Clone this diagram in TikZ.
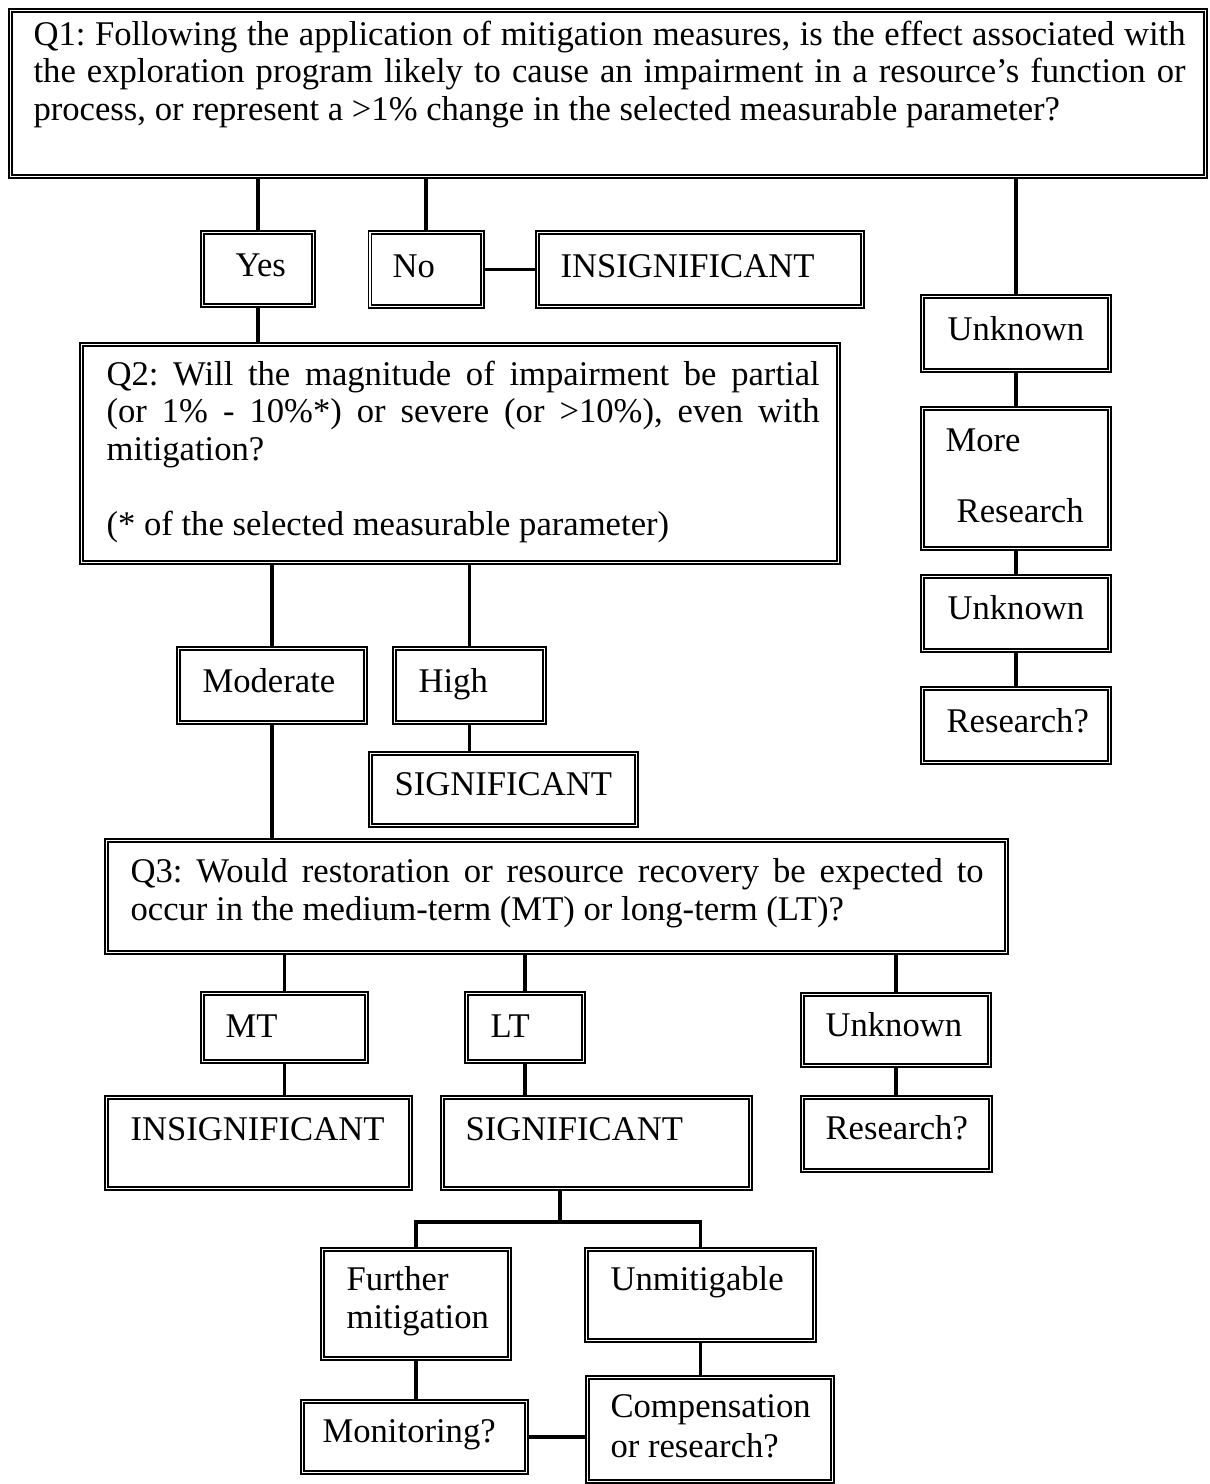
\documentclass[tikz,border=0pt]{standalone}
\usepackage{fontspec}
\setmainfont{Liberation Serif}
\usetikzlibrary{fit,calc}
\frenchspacing

\begin{document}
\begin{tikzpicture}[x=0.358pt,y=0.358pt,yscale=-1,
  dbox/.style={draw, double, double distance=0.6pt, line width=0.5pt, inner sep=0pt, outer sep=0.8pt},
  conn/.style={line width=1.3pt},
  txt/.style={anchor=base west, inner sep=0pt, align=left, font=\fontsize{12.4}{13.4}\selectfont}]
\useasboundingbox (0,0) rectangle (1209,1484);

%Shape: Rectangle [Q1]
\node[dbox, fit={(10.5,10.5) (1205.5,176.5)}] (q1) {};
%Shape: Rectangle [Yes / No / insignificant]
\node[dbox, fit={(202.5,232.5) (313.5,305.5)}] (yes) {};
\node[dbox, fit={(370,232.5) (482.5,306.5)}] (no) {};
\node[dbox, fit={(537.5,232.5) (862.5,306.5)}] (insig) {};
%Shape: Rectangle [right column]
\node[dbox, fit={(922.5,296.5) (1109.5,370.5)}] (unk) {};
\node[dbox, fit={(922.5,408.5) (1109.5,548.5)}] (more) {};
\node[dbox, fit={(922.5,576.5) (1109.5,650.5)}] (unk2) {};
\node[dbox, fit={(922.5,688.5) (1109.5,762.5)}] (resq) {};
%Shape: Rectangle [Q2]
\node[dbox, fit={(81.5,344.5) (838.5,562.5)}] (q2) {};
\node[dbox, fit={(178.5,648.5) (365.5,722.5)}] (mod) {};
\node[dbox, fit={(394.5,648.5) (544.5,722.5)}] (high) {};
\node[dbox, fit={(370.5,753.5) (636.5,825.5)}] (sig) {};
%Shape: Rectangle [Q3]
\node[dbox, fit={(106.5,840.5) (1006.5,952.5)}] (q3) {};
\node[dbox, fit={(202.5,993.5) (366.5,1061.5)}] (mt) {};
\node[dbox, fit={(466.5,993.5) (583.5,1061.5)}] (lt) {};
\node[dbox, fit={(802.5,994.5) (989.5,1065.5)}] (unk3) {};
\node[dbox, fit={(106.5,1097.5) (410.5,1188.5)}] (insig2) {};
\node[dbox, fit={(442.5,1097.5) (750.5,1188.5)}] (sig2) {};
\node[dbox, fit={(802.5,1097.5) (990.5,1170.5)}] (resq3) {};
%Shape: Rectangle [bottom]
\node[dbox, fit={(322.5,1249.5) (509.5,1358.5)}] (further) {};
\node[dbox, fit={(586.5,1249.5) (814.5,1340.5)}] (unmit) {};
\node[dbox, fit={(302.5,1401.5) (526.5,1472.5)}] (mon) {};
\node[dbox, fit={(587.5,1377.5) (832.5,1481.5)}] (comp) {};

%Straight Lines
\draw[conn] (yes.north) -- (yes.north |- q1.south);
\draw[conn] (no.north) -- (no.north |- q1.south);
\draw[conn] (unk.north) -- (unk.north |- q1.south);
\draw[conn] (no.east) -- (insig.west);
\draw[conn] (yes.south) -- (yes.south |- q2.north);
\draw[conn] (unk.south) -- (more.north);
\draw[conn] (more.south) -- (unk2.north);
\draw[conn] (unk2.south) -- (resq.north);
\draw[conn] (mod.north) -- (mod.north |- q2.south);
\draw[conn] (high.north) -- (high.north |- q2.south);
\draw[conn] (high.south) -- (high.south |- sig.north);
\draw[conn] (mod.south) -- (mod.south |- q3.north);
\draw[conn] (mt.north) -- (mt.north |- q3.south);
\draw[conn] (lt.north) -- (lt.north |- q3.south);
\draw[conn] (unk3.north) -- (unk3.north |- q3.south);
\draw[conn] (mt.south) -- (mt.south |- insig2.north);
\draw[conn] (lt.south) -- (lt.south |- sig2.north);
\draw[conn] (unk3.south) -- (unk3.south |- resq3.north);
\coordinate (fork) at (560,1222);
\draw[conn] (fork |- sig2.south) -- (fork);
\draw[conn] (further.north) |- (fork) -| (unmit.north);
\draw[conn] (further.south) -- (further.south |- mon.north);
\draw[conn] (unmit.south) -- (unmit.south |- comp.north);
\draw[conn] (mon.east) -- (mon.east -| comp.west);

% Text Node (multi-line nodes sit on their last baseline)
\node[txt] (q1txt) at (33,120) {\makebox[412.4pt][s]{Q1: Following the application of mitigation measures, is the effect associated with}\\
\makebox[412.4pt][s]{the exploration program likely to cause an impairment in a resource’s function or}\\
process, or represent a >1\% change in the selected measurable parameter?};
% Text Node
\node[txt] (yestxt) at (235,276) {Yes};
% Text Node
\node[txt] (notxt) at (392,277) {No};
% Text Node
\node[txt] (insigtxt) at (560,277) {INSIGNIFICANT};
% Text Node
\node[txt] (unktxt) at (947,340) {Unknown};
% Text Node
\node[txt] (moretxt) at (945,522) {More\\[11.7pt]\hspace*{4pt}Research};
% Text Node
\node[txt] (unk2txt) at (947,619) {Unknown};
% Text Node
\node[txt] (resqtxt) at (946,732) {Research?};
% Text Node
\node[txt] (q2txt) at (106,535) {\makebox[255.3pt][s]{Q2: Will the magnitude of impairment be partial}\\
\makebox[255.3pt][s]{(or 1\% - 10\%*) or severe (or >10\%), even with}\\
mitigation?\\[13.4pt]
(* of the selected measurable parameter)};
% Text Node
\node[txt] (modtxt) at (202,692) {Moderate};
% Text Node
\node[txt] (hightxt) at (418,692) {High};
% Text Node
\node[txt] (sigtxt) at (394,795) {SIGNIFICANT};
% Text Node
\node[txt] (q3txt) at (130,920) {\makebox[305.4pt][s]{Q3: Would restoration or resource recovery be expected to}\\
occur in the medium-term (MT) or long-term (LT)?};
% Text Node
\node[txt] (mttxt) at (225,1037) {MT};
% Text Node
\node[txt] (lttxt) at (490,1037) {LT};
% Text Node
\node[txt] (unk3txt) at (825,1036) {Unknown};
% Text Node
\node[txt] (insig2txt) at (130,1140) {INSIGNIFICANT};
% Text Node
\node[txt] (sig2txt) at (465,1140) {SIGNIFICANT};
% Text Node
\node[txt] (resq3txt) at (825,1139) {Research?};
% Text Node
\node[txt] (furthertxt) at (346,1328) {Further\\mitigation};
% Text Node
\node[txt] (unmittxt) at (610,1290) {Unmitigable};
% Text Node
\node[txt] (montxt) at (322,1442) {Monitoring?};
% Text Node
\node[txt] (comptxt) at (610,1457) {Compensation\\[0.9pt]or research?};

\end{tikzpicture}
\end{document}
